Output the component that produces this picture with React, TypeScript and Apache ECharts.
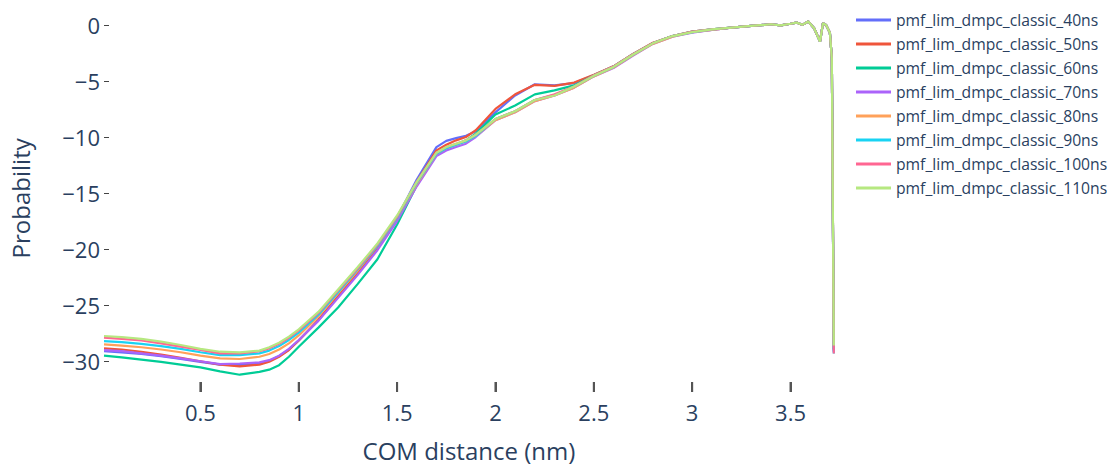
import React, { useEffect, useRef } from "react";
import * as echarts from "echarts";

// COM distance (nm) sampled along the pulling coordinate
const comDistance = [
  0.01, 0.1, 0.2, 0.3, 0.4, 0.5, 0.6, 0.7, 0.8, 0.85, 0.9, 0.95, 1.0, 1.1, 1.2, 1.3, 1.4, 1.5, 1.6, 1.7,
  1.75, 1.8, 1.85, 1.9, 2.0, 2.1, 2.2, 2.3, 2.4, 2.5, 2.6, 2.7, 2.8, 2.9, 3.0, 3.1, 3.2, 3.3, 3.4, 3.45,
  3.5, 3.53, 3.56, 3.59, 3.62, 3.65, 3.665, 3.68, 3.7, 3.71, 3.72,
];

const pmf40 = [
  -29.1, -29.2, -29.35, -29.55, -29.8, -30.05, -30.3, -30.35, -30.2, -29.95, -29.55, -28.95, -28.15, -26.35, -24.25, -22.2, -19.9, -17.2, -13.8, -10.9,
  -10.35, -10.1, -9.9, -9.5, -7.8, -6.3, -5.3, -5.4, -5.2, -4.5, -3.75, -2.65, -1.65, -1.0, -0.65, -0.45, -0.25, -0.1, 0.05, -0.05,
  0.1, 0.2, 0.0, 0.3, -0.3, -1.5, 0.15, 0.0, -0.7, -3.0, -29.1,
];
const pmf50 = [
  -28.85, -28.95, -29.15, -29.4, -29.7, -30.0, -30.3, -30.45, -30.3, -30.05, -29.6, -29.0, -28.15, -26.3, -24.2, -22.1, -19.9, -17.3, -14.0, -11.2,
  -10.7, -10.3, -10.0, -9.4, -7.5, -6.2, -5.35, -5.45, -5.15, -4.45, -3.7, -2.6, -1.6, -1.0, -0.6, -0.4, -0.25, -0.1, 0.05, -0.05,
  0.1, 0.2, 0.0, 0.3, -0.3, -1.45, 0.15, 0.0, -0.7, -3.0, -29.0,
];
const pmf60 = [
  -29.5, -29.65, -29.85, -30.05, -30.3, -30.55, -30.9, -31.2, -30.95, -30.75, -30.35, -29.6, -28.7, -27.0, -25.2, -23.1, -20.9, -17.8, -14.3, -11.5,
  -11.0, -10.7, -10.3, -9.7, -8.0, -7.2, -6.2, -5.85, -5.4, -4.5, -3.7, -2.6, -1.65, -1.0, -0.6, -0.4, -0.25, -0.1, 0.05, -0.05,
  0.1, 0.2, 0.0, 0.3, -0.3, -1.5, 0.15, 0.0, -0.7, -3.0, -28.9,
];
const pmf70 = [
  -29.0, -29.1, -29.3, -29.5, -29.75, -30.0, -30.25, -30.2, -30.1, -29.9, -29.5, -28.9, -28.1, -26.4, -24.35, -22.3, -20.1, -17.5, -14.4, -11.7,
  -11.2, -10.9, -10.6, -10.0, -8.5, -7.8, -6.8, -6.3, -5.6, -4.6, -3.85, -2.75, -1.7, -1.05, -0.7, -0.45, -0.25, -0.1, 0.05, -0.05,
  0.1, 0.2, 0.0, 0.3, -0.3, -1.5, 0.15, 0.0, -0.7, -3.0, -29.2,
];
const pmf80 = [
  -28.5, -28.6, -28.75, -28.95, -29.2, -29.5, -29.75, -29.8, -29.6, -29.35, -28.95, -28.4, -27.7, -26.0, -23.95, -21.9, -19.7, -17.2, -14.2, -11.5,
  -11.0, -10.7, -10.4, -9.9, -8.5, -7.8, -6.8, -6.3, -5.6, -4.6, -3.8, -2.7, -1.7, -1.05, -0.65, -0.45, -0.25, -0.1, 0.05, -0.05,
  0.1, 0.2, 0.0, 0.3, -0.3, -1.5, 0.15, 0.0, -0.7, -3.0, -28.8,
];
const pmf90 = [
  -28.2, -28.3, -28.45, -28.65, -28.9, -29.2, -29.45, -29.45, -29.3, -29.05, -28.65, -28.1, -27.45, -25.85, -23.85, -21.8, -19.7, -17.2, -14.1, -11.5,
  -11.0, -10.7, -10.4, -9.9, -8.4, -7.7, -6.7, -6.25, -5.5, -4.55, -3.75, -2.65, -1.65, -1.0, -0.65, -0.4, -0.25, -0.1, 0.05, -0.05,
  0.1, 0.2, 0.0, 0.3, -0.3, -1.5, 0.15, 0.0, -0.7, -3.0, -29.3,
];
const pmf100 = [
  -27.9, -28.0, -28.15, -28.4, -28.7, -29.0, -29.3, -29.3, -29.1, -28.85, -28.45, -27.9, -27.25, -25.7, -23.7, -21.7, -19.6, -17.1, -14.0, -11.4,
  -10.9, -10.6, -10.3, -9.8, -8.4, -7.7, -6.7, -6.2, -5.5, -4.5, -3.7, -2.6, -1.65, -1.0, -0.6, -0.4, -0.25, -0.1, 0.05, -0.05,
  0.1, 0.2, 0.0, 0.3, -0.3, -1.5, 0.15, 0.0, -0.7, -3.0, -29.3,
];
const pmf110 = [
  -27.75, -27.85, -28.0, -28.25, -28.55, -28.9, -29.15, -29.2, -29.05, -28.75, -28.35, -27.8, -27.15, -25.6, -23.6, -21.6, -19.5, -17.0, -14.0, -11.4,
  -10.9, -10.6, -10.3, -9.8, -8.4, -7.7, -6.7, -6.3, -5.5, -4.55, -3.75, -2.65, -1.65, -1.0, -0.65, -0.4, -0.25, -0.1, 0.05, -0.05,
  0.1, 0.2, 0.0, 0.3, -0.3, -1.5, 0.15, 0.0, -0.7, -3.0, -28.6,
];

const seriesNames = [
  "pmf_lim_dmpc_classic_40ns",
  "pmf_lim_dmpc_classic_50ns",
  "pmf_lim_dmpc_classic_60ns",
  "pmf_lim_dmpc_classic_70ns",
  "pmf_lim_dmpc_classic_80ns",
  "pmf_lim_dmpc_classic_90ns",
  "pmf_lim_dmpc_classic_100ns",
  "pmf_lim_dmpc_classic_110ns",
];
const seriesValues = [pmf40, pmf50, pmf60, pmf70, pmf80, pmf90, pmf100, pmf110];
const seriesColors = ["#636efa", "#EF553B", "#00cc96", "#ab63fa", "#FFA15A", "#19d3f3", "#FF6692", "#B6E880"];

const xTicks = [0.5, 1, 1.5, 2, 2.5, 3, 3.5];
const yTicks = [-30, -25, -20, -15, -10, -5, 0];

const X_MIN = 0.01;
const X_MAX = 3.72;
const Y_MIN = -31.85;
const Y_MAX = 0.9;

const TEXT = "#2a3f5f";
const FONT = "'Open Sans', 'Noto Sans', sans-serif";

export default function App() {
  const ref = useRef<HTMLDivElement>(null);

  useEffect(() => {
    if (!ref.current) return;
    const chart = echarts.init(ref.current, undefined, { renderer: "svg" });
    chart.setOption({
      animation: false,
      backgroundColor: "#ffffff",
      textStyle: { fontFamily: FONT, color: TEXT },
      grid: { left: 103, right: 273.2, top: 14.74, bottom: 78.9 },
      legend: {
        orient: "vertical",
        left: 851,
        top: 7,
        itemWidth: 35,
        itemHeight: 14,
        itemGap: 8,
        icon: "path://M0,6 L35,6 L35,9 L0,9 Z",
        textStyle: { fontFamily: FONT, fontSize: 15.7, color: TEXT },
        data: seriesNames,
      },
      xAxis: {
        type: "value",
        min: X_MIN,
        max: X_MAX,
        position: "bottom",
        name: "COM distance (nm)",
        nameLocation: "middle",
        nameGap: 56,
        nameTextStyle: { fontFamily: FONT, fontSize: 24, color: TEXT },
        axisLine: { show: true, onZero: false, lineStyle: { color: "#ffffff" } },
        splitLine: { show: false },
        axisTick: { show: true, length: 10, lineStyle: { color: "#555555", width: 2 }, customValues: xTicks },
        axisLabel: {
          fontFamily: FONT,
          fontSize: 22,
          color: TEXT,
          margin: 19,
          customValues: xTicks,
          formatter: (v: number) => String(v),
        },
      },
      yAxis: {
        type: "value",
        min: Y_MIN,
        max: Y_MAX,
        name: "Probability",
        nameLocation: "middle",
        nameGap: 72,
        nameTextStyle: { fontFamily: FONT, fontSize: 24, color: TEXT },
        axisLine: { show: false, onZero: false },
        splitLine: { show: false },
        axisTick: { show: true, inside: true, length: 5, lineStyle: { color: "#444444" }, customValues: yTicks },
        axisLabel: {
          fontFamily: FONT,
          fontSize: 22,
          color: TEXT,
          margin: 4,
          customValues: yTicks,
          formatter: (v: number) => String(v).replace("-", "\u2212"),
        },
      },
      series: [
        ...seriesNames.map((name, i) => ({
          type: "line",
          name,
          data: comDistance.map((x, j) => [x, seriesValues[i][j]]),
          showSymbol: false,
          symbol: "none",
          lineStyle: { width: 2.2, color: seriesColors[i] },
          itemStyle: { color: seriesColors[i] },
        })),
        {
          // outside tick marks under the plot, one per x tick value
          type: "scatter",
          name: "x ticks",
          data: xTicks.map((x) => [x, Y_MIN]),
          symbol: "rect",
          symbolSize: [2, 10],
          symbolOffset: [0, 5],
          clip: false,
          silent: true,
          itemStyle: { color: "#555555", opacity: 1 },
          z: 5,
        },
      ],
    });
    return () => chart.dispose();
  }, []);

  return <div ref={ref} style={{ position: "fixed", left: 0, top: 0, width: 1107, height: 467 }} />;
}
